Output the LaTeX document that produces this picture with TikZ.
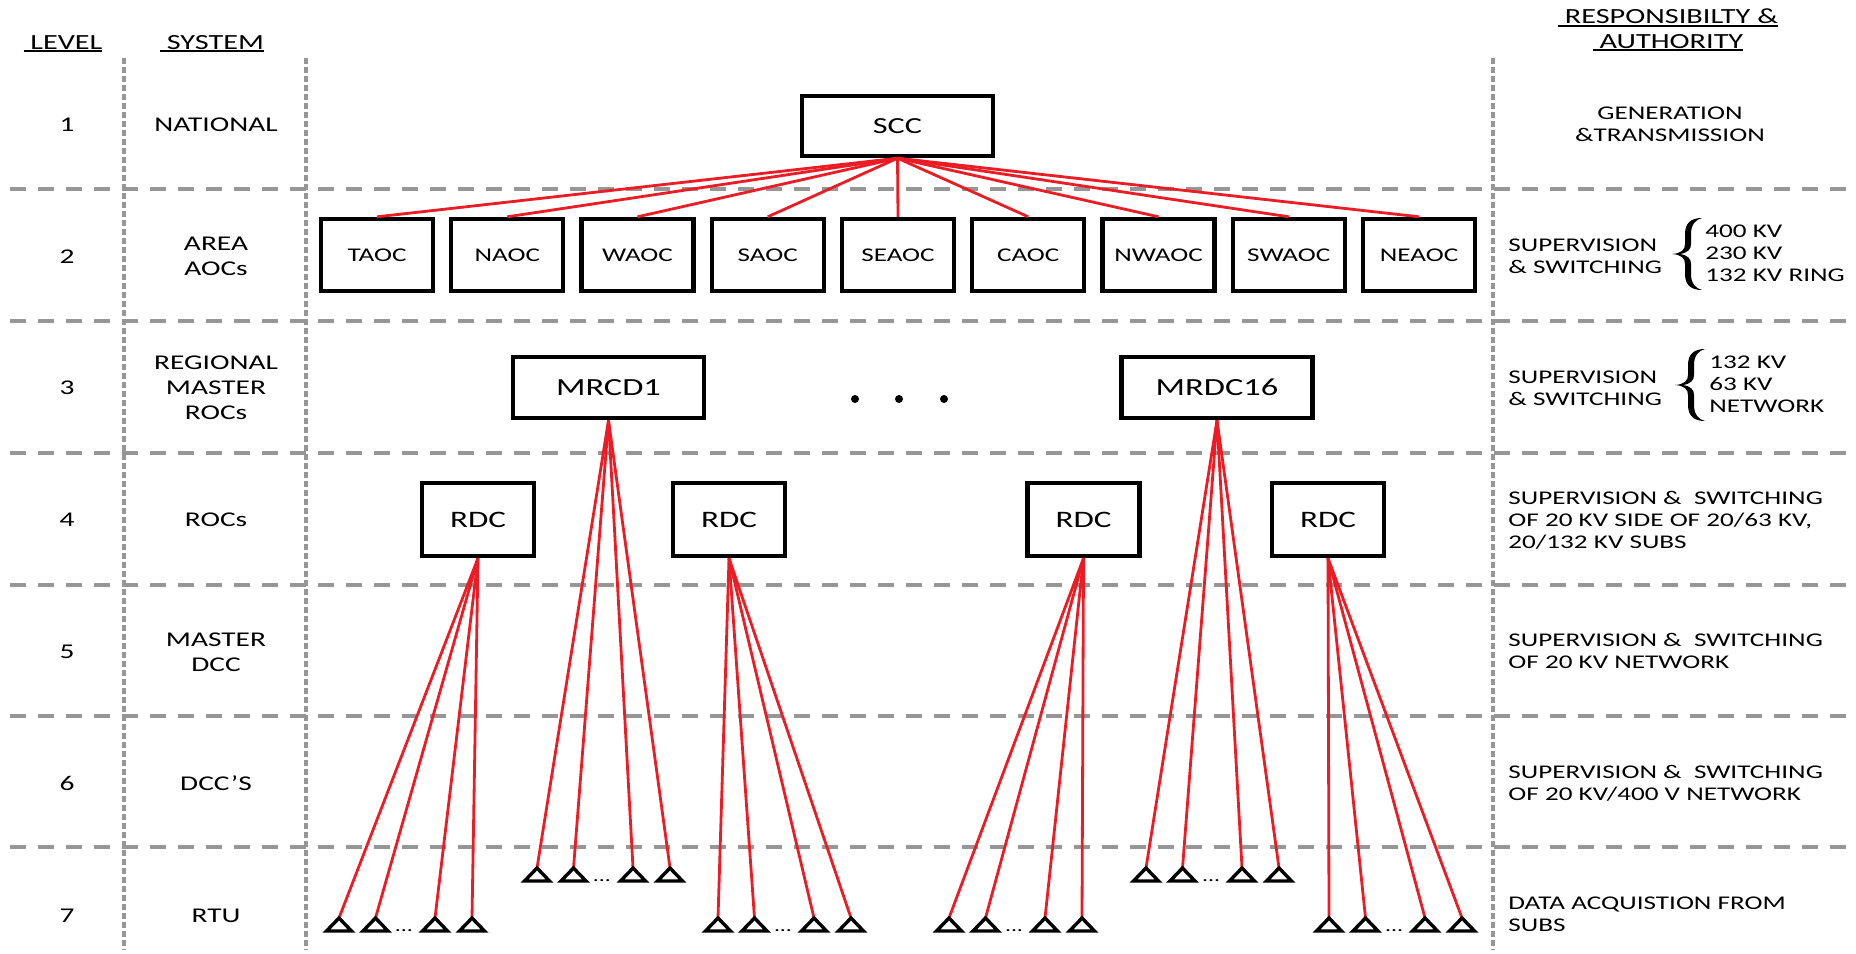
\documentclass[tikz,border=0pt]{standalone}
\usepackage{fontspec}
\setmainfont[FakeStretch=1.4]{Carlito}
\definecolor{gridgray}{RGB}{150,150,150}
\definecolor{linkred}{RGB}{237,28,36}
\newcommand\myul[1]{\setbox0\hbox{#1}\rlap{\rule[-1.6pt]{\wd0}{0.9pt}}\box0}
\begin{document}
\begin{tikzpicture}[x=0.5pt,y=-0.5pt,
  hgrid/.style={draw=gridgray,line width=1.75pt,dash pattern=on 8pt off 6pt},
  vgrid/.style={draw=gridgray,line width=2pt,dash pattern=on 2.75pt off 1.75pt},
  box/.style={draw=black,line width=2.2pt,fill=white,inner sep=0pt},
  aocbox/.style={box,minimum width=56pt,minimum height=36pt,font=\fontsize{9.7}{11}\selectfont},
  bigbox/.style={box,minimum width=95.5pt,minimum height=30.5pt},
  rdcbox/.style={box,minimum width=56pt,minimum height=36.5pt,font=\fontsize{11.8}{13}\selectfont},
  link/.style={draw=linkred,line width=1.4pt},
  rtu/.style={draw=black,line width=1.7pt,line join=miter,fill=white},
  lvl/.style={inner sep=0pt,font=\fontsize{10.5}{12.5}\selectfont,align=center},
  resp/.style={inner sep=0pt,font=\fontsize{9.7}{11}\selectfont,align=left,anchor=west},
  head/.style={inner sep=0pt,font=\fontsize{10.8}{12}\selectfont,anchor=base},
  dotsnode/.style={inner sep=0pt,font=\fontsize{8.5}{8.5}\selectfont,anchor=base},
  bigdot/.style={circle,fill=black,inner sep=0pt,minimum size=4pt},
  bracepic/.pic={
    \fill[black] (14,-36) .. controls (3,-36) and (-3,-31) .. (-3,-20) -- (-3,-10)
      .. controls (-3,-4) and (-7,-0.6) .. (-16,0)
      .. controls (-7,0.6) and (-3,4) .. (-3,10) -- (-3,20)
      .. controls (-3,31) and (3,36) .. (14,36)
      .. controls (8,34.5) and (3,30) .. (3,20) -- (3,10)
      .. controls (3,5) and (0,1.2) .. (-8,0)
      .. controls (0,-1.2) and (3,-5) .. (3,-10) -- (3,-20)
      .. controls (3,-30) and (8,-34.5) .. (14,-36) -- cycle;
  }
]
\useasboundingbox (0,0) rectangle (1856,953);

% grid
\foreach \y in {189,321,453,585,716,847} \draw[hgrid] (10,\y) -- (1856,\y);
\foreach \x in {124,306,1493} \draw[vgrid] (\x,58) -- (\x,950);

% headers
\node[head] (hlevel) at (63,49) {\myul{\ LEVEL}};
\node[head] (hsystem) at (212,49) {\myul{\ SYSTEM}};
\node[head] (hresp1) at (1668,24) {\myul{\ RESPONSIBILTY \&}};
\node[head] (hresp2) at (1668,48) {\myul{\ AUTHORITY}};

% level numbers
\foreach \n/\y in {1/125,2/257,3/388,4/520,5/652,6/783,7/916}
  \node[lvl] (l\n) at (67,\y) {\n};

% system column
\node[lvl] (s1) at (216,125) {NATIONAL};
\node[lvl] (s2) at (216,256) {AREA\\AOCs};
\node[lvl] (s3) at (216,388) {REGIONAL\\MASTER\\ROCs};
\node[lvl] (s4) at (216,520) {ROCs};
\node[lvl] (s5) at (216,652) {MASTER\\DCC};
\node[lvl] (s6) at (216,783) {DCC’S};
\node[lvl] (s7) at (216,916) {RTU};

% responsibility column
\node[resp,anchor=center,align=center] (r1) at (1670,124) {GENERATION\\\&TRANSMISSION};
\node[resp] (r2) at (1508,256) {SUPERVISION\\\& SWITCHING};
\pic at (1688,254) {bracepic};
\node[resp] (r2v) at (1705,253) {400 KV\\230 KV\\132 KV RING};
\node[resp] (r3) at (1508,388) {SUPERVISION\\\& SWITCHING};
\pic at (1691,385) {bracepic};
\node[resp] (r3v) at (1709,384) {132 KV\\63 KV\\NETWORK};
\node[resp] (r4) at (1508,520) {SUPERVISION \&~ SWITCHING\\OF 20 KV SIDE OF 20/63 KV,\\20/132 KV SUBS};
\node[resp] (r5) at (1508,651) {SUPERVISION \&~ SWITCHING\\OF 20 KV NETWORK};
\node[resp] (r6) at (1508,783) {SUPERVISION \&~ SWITCHING\\OF 20 KV/400 V NETWORK};
\node[resp] (r7) at (1508,914) {DATA ACQUISTION FROM\\SUBS};

% level 1 and 2
\node[bigbox,minimum height=30pt,font=\fontsize{11.5}{12}\selectfont] (scc) at (897.5,126) {SCC};
\foreach \n [count=\i from 0] in {TAOC,NAOC,WAOC,SAOC,SEAOC,CAOC,NWAOC,SWAOC,NEAOC}
  \node[aocbox] (\n) at ({377+130.25*\i},255) {\n};
\foreach \n in {TAOC,NAOC,WAOC,SAOC,SEAOC,CAOC,NWAOC,SWAOC,NEAOC}
  \draw[link] (scc.south) -- (\n.north);

% level 3
\node[bigbox,font=\fontsize{12.3}{13}\selectfont] (mrcd1) at (608.5,387.5) {MRCD1};
\node[bigbox,font=\fontsize{12.3}{13}\selectfont] (mrdc16) at (1217,387.5) {MRDC16};
\node[bigdot] (e1) at (855,399) {};
\node[bigdot] (e2) at (899,399) {};
\node[bigdot] (e3) at (944,399) {};

% level 4
\node[rdcbox] (rdc1) at (478,519.5) {RDC};
\node[rdcbox] (rdc2) at (729,519.5) {RDC};
\node[rdcbox] (rdc3) at (1083.5,519.5) {RDC};
\node[rdcbox] (rdc4) at (1328,519.5) {RDC};

% RTUs
\foreach \g/\x/\y/\src in {1/339/918/rdc1,2/537/868/mrcd1,3/718/918/rdc2,4/949/918/rdc3,5/1146/868/mrdc16,6/1329/918/rdc4}{
  \foreach \o [count=\k] in {0,36.5,96,133}{
    \coordinate (t\g\k) at ({\x+\o},\y);
    \draw[link] (\src.south) -- (t\g\k);
  }
  \node[dotsnode] (d\g) at ({\x+65},{\y+13}) {...};
}
\foreach \g in {1,...,6}{
  \foreach \k in {1,...,4}{
    \draw[rtu] (t\g\k) -- ++(-12.5,13) -- ++(25,0) -- cycle;
  }
}
\end{tikzpicture}
\end{document}
